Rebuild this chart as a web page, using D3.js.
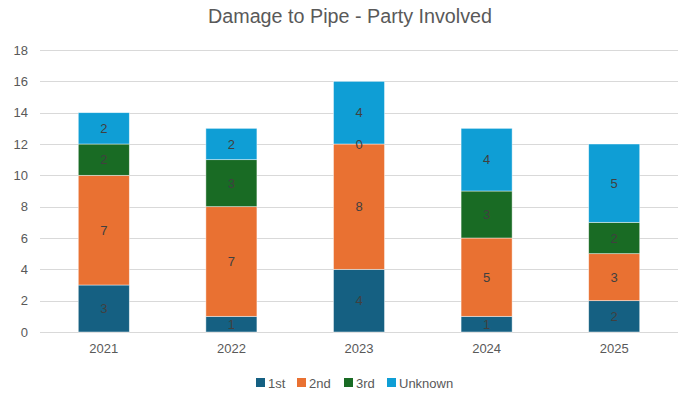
<!DOCTYPE html>
<html>
<head>
<meta charset="utf-8">
<script src="https://cdn.jsdelivr.net/npm/d3@7/dist/d3.min.js"></script>
<style>
  body { margin: 0; background: #fff; }
  svg text { font-family: "Liberation Sans", Arial, sans-serif; }
</style>
</head>
<body>
<svg id="chart" width="686" height="402"></svg>
<script>
const years = ["2021", "2022", "2023", "2024", "2025"];
const first = [3, 1, 4, 1, 2];
const second = [7, 7, 8, 5, 3];
const third = [2, 3, 0, 3, 2];
const unknown = [2, 2, 4, 4, 5];
const seriesNames = ["1st", "2nd", "3rd", "Unknown"];
const seriesColors = ["#156082", "#E97132", "#196B24", "#0F9ED5"];
const yTicks = [0, 2, 4, 6, 8, 10, 12, 14, 16, 18];

const rows = years.map((y, i) => ({
  year: y, "1st": first[i], "2nd": second[i], "3rd": third[i], "Unknown": unknown[i]
}));
const stacked = d3.stack().keys(seriesNames)(rows);

const svg = d3.select("#chart");
const W = 686, H = 402;
const m = { left: 40, right: 8, top: 50, bottom: 70 };

const x = d3.scaleBand().domain(years).range([m.left, W - m.right]).paddingInner(0.6).paddingOuter(0.3);
const y = d3.scaleLinear().domain([0, 18]).range([332, 50]);

// title
svg.append("text")
  .attr("x", 350).attr("y", 23)
  .attr("text-anchor", "middle")
  .style("font-size", "20px").attr("fill", "#595959")
  .attr("textLength", 284).attr("lengthAdjust", "spacingAndGlyphs")
  .text("Damage to Pipe - Party Involved");

// gridlines
svg.append("g").selectAll("line").data(yTicks).join("line")
  .attr("x1", m.left).attr("x2", W - m.right)
  .attr("y1", d => Math.round(y(d)) + 0.5).attr("y2", d => Math.round(y(d)) + 0.5)
  .attr("stroke", "#d9d9d9").attr("stroke-width", 1);

// y axis labels
const yAxis = svg.append("g").attr("transform", `translate(${m.left - 12},0)`)
  .call(d3.axisLeft(y).tickValues(yTicks).tickSize(0).tickPadding(0));
yAxis.select(".domain").remove();
yAxis.selectAll("text").style("font-size", "13px").attr("fill", "#595959");

// x axis labels
const xAxis = svg.append("g").attr("transform", `translate(0,332)`)
  .call(d3.axisBottom(x).tickSize(0).tickPadding(12));
xAxis.select(".domain").remove();
xAxis.selectAll("text").style("font-size", "13px").attr("fill", "#595959");

// stacked bars
const layers = svg.append("g").selectAll("g").data(stacked).join("g")
  .attr("fill", (d, i) => seriesColors[i]);
layers.selectAll("rect").data(d => d).join("rect")
  .attr("x", d => x(d.data.year))
  .attr("width", x.bandwidth())
  .attr("y", d => y(d[1]))
  .attr("height", d => y(d[0]) - y(d[1]))
  .attr("stroke", "#ffffff").attr("stroke-opacity", 0.6).attr("stroke-width", 0.75);

// value labels centred in each segment
svg.append("g").selectAll("g").data(stacked).join("g")
  .selectAll("text").data(d => d.map(v => ({ v, key: d.key }))).join("text")
  .attr("x", d => x(d.v.data.year) + x.bandwidth() / 2)
  .attr("y", d => (y(d.v[0]) + y(d.v[1])) / 2)
  .attr("dy", "0.35em")
  .attr("text-anchor", "middle")
  .style("font-size", "13px").attr("fill", "#404040")
  .text(d => d.v.data[d.key]);

// legend
const legendX = [256, 297, 344, 387];
const lg = svg.append("g").selectAll("g").data(seriesNames).join("g")
  .attr("transform", (d, i) => `translate(${legendX[i]},378)`);
lg.append("rect").attr("width", 9).attr("height", 9).attr("fill", (d, i) => seriesColors[i]);
lg.append("text").attr("x", 12).attr("y", 5).attr("dy", "0.35em")
  .style("font-size", "13px").attr("fill", "#595959").text(d => d);
</script>
</body>
</html>
